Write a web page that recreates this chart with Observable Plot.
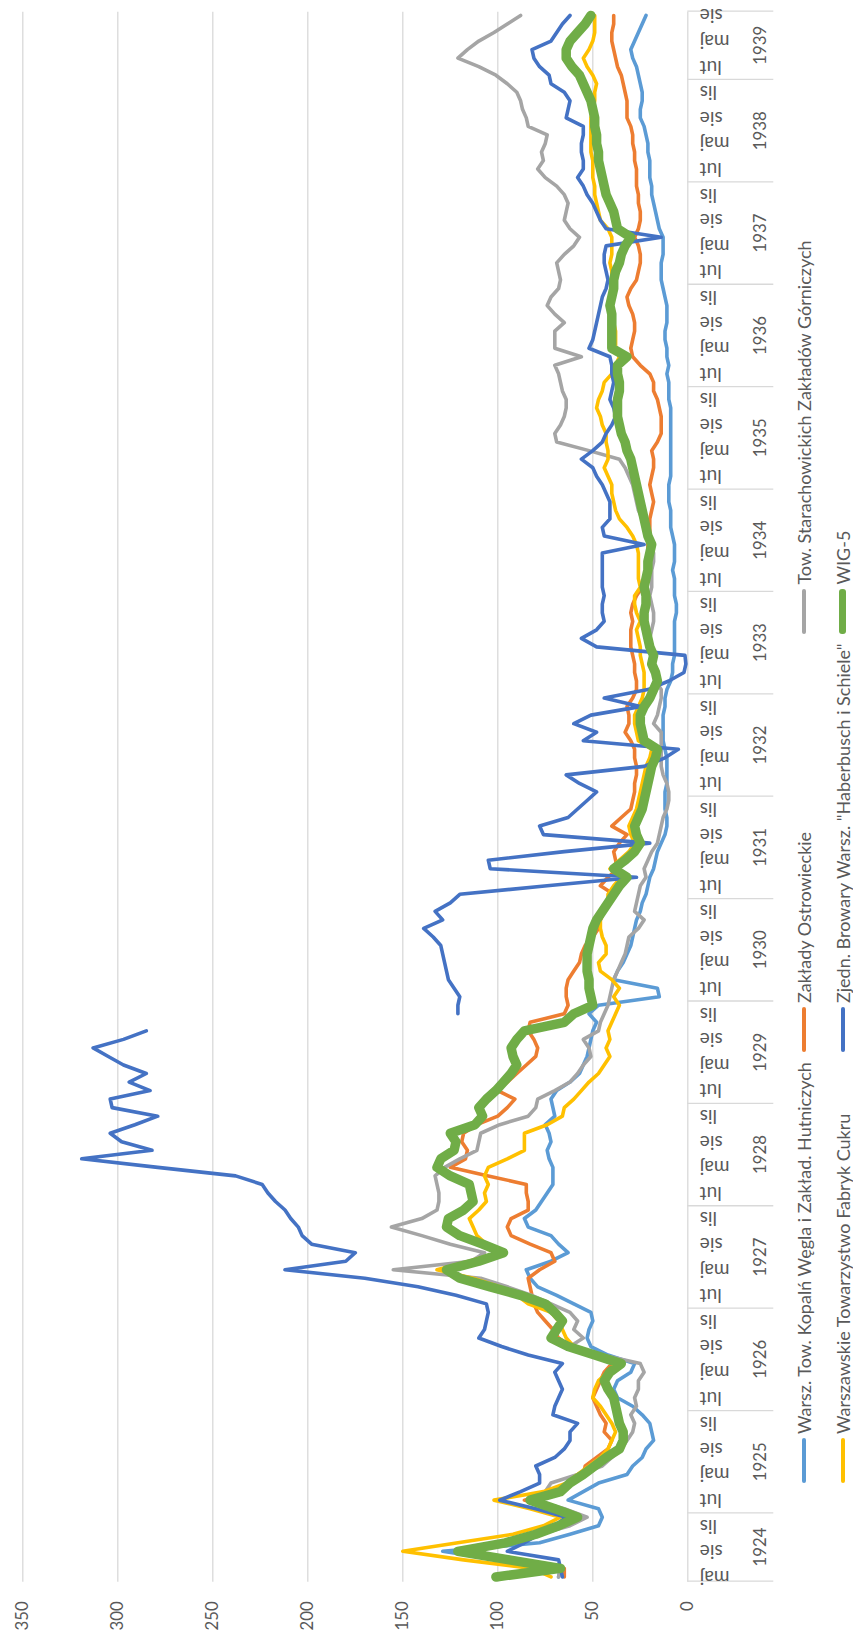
<!DOCTYPE html>
<html lang="pl">
<head>
<meta charset="utf-8">
<title>Notowania akcji 1924–1939</title>
<script src="https://cdn.jsdelivr.net/npm/d3@7"></script>
<script src="https://cdn.jsdelivr.net/npm/@observablehq/plot@0.6"></script>
<style>
  html, body { margin: 0; padding: 0; background: #fff; }
  body { width: 853px; height: 1639px; overflow: hidden; position: relative; }
  /* the chart is laid out landscape and turned a quarter counter-clockwise */
  #chart {
    position: absolute; left: 0; top: 0; width: 1639px; height: 853px;
    transform-origin: 0 0; transform: translate(0, 1639px) rotate(-90deg);
    font-family: Lato, "Open Sans", sans-serif; color: #595959;
  }
  #chart svg { position: absolute; left: 0; top: 0; }
  #legend {
    position: absolute; left: 156px; top: 784px;
    display: grid; grid-template-columns: repeat(3, auto); grid-auto-rows: 39px;
    column-gap: 10px; font-size: 18px; color: #595959;
  }
  .item { display: flex; align-items: center; white-space: nowrap; }
  .swatch { display: inline-block; width: 45px; border-radius: 3px; margin-right: 4px; }
</style>
</head>
<body>
<div id="chart"></div>
<script>
// Monthly quotations, May 1924 – August 1939 (one row per calendar year)
const firstYear = 1924;
const firstMonth = 4; // May (0 = January)

const seriesNames = [
  "Warsz. Tow. Kopalń Węgla i Zakład. Hutniczych",
  "Zakłady Ostrowieckie",
  "Tow. Starachowickich Zakładów Górniczych",
  "Warszawskie Towarzystwo Fabryk Cukru",
  "Zjedn. Browary Warsz. \"Haberbusch i Schiele\"",
  "WIG-5"
];

const kopalnie = [
  68, 67, 100, 129, 78, 62, 47, 45,
  47, 63, 55, 47, 32, 29, 24, 22, 18, 19, 20, 24,
  29, 37, 39, 37, 30, 28, 42, 51, 53, 52, 50, 51,
  60, 69, 79, 83, 85, 72, 63, 68, 72, 84, 86, 80,
  77, 74, 71, 71, 71, 73, 74, 72, 73, 75, 70, 71,
  72, 69, 62, 57, 55, 53, 52, 51, 50, 48, 52, 47,
  15, 16, 39, 37, 34, 32, 30, 29, 28, 27, 25, 24,
  22, 21, 20, 18, 17, 16, 14, 12, 11, 11, 12, 12,
  12, 11, 11, 11, 11, 12, 13, 13, 13, 13, 12, 12,
  11, 9, 8, 8, 7, 7, 7, 7, 7, 6, 6, 7,
  7, 7, 8, 7, 7, 7, 8, 9, 9, 9, 10, 10,
  10, 9, 9, 9, 9, 9, 9, 9, 9, 9, 10, 10,
  10, 11, 10, 11, 11, 12, 12, 11, 11, 11, 12, 13,
  14, 14, 14, 13, 13, 13, 15, 16, 17, 18, 19, 19,
  20, 20, 20, 21, 21, 22, 23, 25, 25, 24, 24, 25,
  26, 27, 29, 30, 28, 26, 24, 22
];

const ostrowiec = [
  65, 65, 88, 120, 95, 80, 65, 60,
  72, 86, 68, 60, 55, 54, 48, 42, 40, 44, 43, 46,
  48, 50, 48, 46, 44, 40, 50, 62, 68, 71, 75, 79,
  81, 82, 83, 84, 78, 70, 72, 83, 93, 95, 93, 84,
  84, 85, 85, 105, 125, 117, 116, 119, 118, 111, 100, 95,
  91, 100, 95, 90, 85, 80, 79, 81, 84, 83, 65, 63,
  64, 64, 63, 60, 57, 56, 54, 50, 47, 46, 44, 43,
  39, 46, 42, 37, 38, 39, 36, 32, 40, 35, 30, 29,
  28, 28, 27, 27, 28, 28, 30, 33, 31, 31, 32, 29,
  27, 27, 28, 28, 29, 30, 30, 30, 29, 30, 29, 27,
  24, 21, 20, 20, 21, 21, 20, 20, 20, 19, 18, 19,
  20, 19, 18, 18, 19, 16, 14, 14, 14, 15, 16, 18,
  18, 20, 25, 29, 30, 29, 28, 28, 29, 31, 32, 30,
  27, 26, 25, 25, 26, 28, 26, 25, 25, 26, 26, 27,
  27, 27, 28, 28, 29, 29, 30, 32, 32, 32, 33, 34,
  35, 37, 38, 39, 40, 40, 39, 39
];

const starachowice = [
  68, 67, 90, 122, 95, 78, 62, 53,
  65, 82, 75, 72, 58, 45, 40, 35, 32, 29, 28, 30,
  27, 28, 26, 26, 23, 25, 45, 62, 55, 60, 58, 62,
  72, 82, 95, 109, 155, 114, 107, 125, 140, 156, 140, 132,
  131, 131, 132, 133, 128, 120, 111, 110, 109, 99, 84, 80,
  79, 70, 62, 58, 55, 51, 52, 55, 47, 46, 44, 42,
  41, 40, 39, 37, 35, 33, 32, 31, 26, 23, 28, 27,
  26, 25, 22, 23, 21, 19, 16, 15, 14, 13, 11, 10,
  10, 11, 13, 14, 14, 14, 14, 14, 18, 16, 15, 14,
  14, 17, 18, 19, 19, 20, 20, 19, 18, 18, 19, 20,
  19, 19, 19, 18, 18, 19, 20, 22, 24, 26, 27, 28,
  29, 31, 33, 36, 52, 69, 70, 67, 65, 64, 64, 66,
  67, 68, 70, 56, 70, 70, 70, 65, 70, 74, 72, 68,
  67, 68, 69, 65, 60, 57, 62, 65, 64, 63, 65, 69,
  75, 79, 76, 77, 75, 74, 84, 85, 87, 88, 90, 95,
  101, 110, 121, 116, 110, 102, 95, 88
];

const cukier = [
  72, 82, 118, 150, 121, 92, 76, 67,
  83, 102, 76, 64, 58, 52, 46, 42, 40, 38, 40, 43,
  46, 50, 49, 47, 42, 38, 50, 60, 64, 66, 68, 72,
  84, 90, 99, 113, 132, 115, 100, 106, 111, 113, 115, 110,
  106, 107, 105, 107, 105, 95, 86, 86, 86, 74, 66, 65,
  60, 56, 52, 47, 44, 41, 43, 41, 42, 40, 38, 36,
  39, 36, 40, 46, 47, 43, 43, 45, 46, 46, 44, 42,
  42, 39, 35, 41, 36, 31, 28, 30, 31, 29, 27, 26,
  25, 24, 23, 22, 20, 19, 26, 27, 28, 28, 26, 24,
  23, 23, 23, 24, 25, 25, 26, 27, 25, 27, 28, 28,
  25, 26, 26, 26, 26, 27, 29, 32, 36, 38, 39, 40,
  40, 42, 44, 42, 42, 43, 43, 45, 46, 48, 47, 45,
  44, 40, 38, 36, 38, 38, 38, 39, 39, 40, 40, 40,
  40, 40, 41, 40, 40, 40, 42, 46, 47, 48, 49, 49,
  50, 50, 50, 51, 51, 51, 51, 51, 50, 49, 49, 48,
  50, 53, 55, 52, 50, 49, 49, 49
];

// no quotation for October 1929
const browary = [
  66, 67, 68, 95, 86, 78, 70, 64,
  80, 99, 88, 78, 78, 80, 70, 65, 62, 62, 58, 71,
  70, 68, 66, 68, 70, 66, 84, 98, 110, 107, 106, 105,
  106, 122, 142, 170, 212, 180, 175, 198, 203, 205, 209, 212,
  217, 221, 224, 238, 279, 319, 282, 298, 304, 291, 279, 303,
  304, 283, 294, 285, 297, 305, 313, 297, 285, null, 121, 121,
  120, 123, 126, 127, 128, 129, 130, 134, 139, 129, 133, 125,
  120, 74, 27, 104, 105, 65, 20, 76, 78, 63, 58, 53,
  48, 57, 64, 23, 12, 5, 55, 48, 60, 51, 25, 44,
  21, 10, 2, 1, 1.5, 48, 56, 48, 44, 45, 45, 44,
  45, 45, 45, 45, 45, 23, 44, 45, 41, 41, 41, 43,
  45, 48, 50, 56, 50, 45, 43, 40, 38, 39, 41, 40,
  39, 40, 40, 41, 52, 50, 49, 48, 47, 46, 45, 43,
  42, 43, 44, 44, 43, 14, 43, 46, 48, 50, 53, 55,
  58, 55, 55, 56, 56, 55, 55, 64, 63, 62, 65, 72,
  73, 78, 81, 82, 72, 69, 66, 62
];

const wig5 = [
  101, 67, 94, 121, 96, 80, 68, 58,
  70, 83, 67, 62, 55, 49, 43, 36, 34, 34, 36, 37,
  38, 39, 42, 44, 41, 35, 49, 63, 72, 69, 66, 70,
  75, 88, 104, 120, 127, 110, 97, 108, 120, 127, 126, 118,
  113, 114, 115, 125, 132, 130, 123, 122, 125, 112, 108, 110,
  106, 101, 97, 93, 90, 92, 93, 90, 86, 65, 60, 50,
  51, 52, 52, 53, 53, 53, 52, 51, 50, 48, 45, 42,
  39, 36, 32, 39, 33, 28, 25, 27, 28, 26, 24, 23,
  22, 21, 20, 19, 17, 16, 23, 24, 25, 25, 23, 20,
  18, 16, 17, 19, 18, 20, 21, 22, 23, 23, 22, 22,
  23, 22, 21, 21, 20, 19, 21, 22, 23, 24, 25, 26,
  27, 28, 29, 30, 32, 33, 35, 36, 37, 37, 37, 36,
  36, 37, 37, 32, 40, 40, 40, 40, 40, 41, 40, 39,
  39, 38, 36, 35, 33, 30, 37, 38, 39, 41, 43, 44,
  45, 46, 47, 47, 48, 48, 49, 49, 50, 51, 53, 55,
  57, 61, 64, 64, 62, 58, 54, 51
];

// axis labels
const monthNames = ["sty", "lut", "mar", "kwi", "maj", "cze", "lip", "sie", "wrz", "paź", "lis", "gru"];
const valueTicks = [0, 50, 100, 150, 200, 250, 300, 350];

// drawing styles, in series order (Office palette)
const styles = [
  {color: "#5B9BD5", width: 3.6, swatch: 4},
  {color: "#ED7D31", width: 3.6, swatch: 4},
  {color: "#A5A5A5", width: 3.6, swatch: 4},
  {color: "#FFC000", width: 3.6, swatch: 4},
  {color: "#4472C4", width: 3.6, swatch: 4},
  {color: "#70AD47", width: 9.5, swatch: 7}
];

const seriesValues = [kopalnie, ostrowiec, starachowice, cukier, browary, wig5];
const n = wig5.length;

// month slots: index i occupies [i, i + 1] on the category axis
const monthTicks = d3.range(0, n, 3).map(i => ({i, label: monthNames[(firstMonth + i) % 12]}));

const yearSpans = [];
for (let i = 0; i < n; ) {
  const year = firstYear + Math.floor((firstMonth + i) / 12);
  const end = Math.min(n, (year - firstYear + 1) * 12 - firstMonth);
  yearSpans.push({year: String(year), start: i, end, mid: (i + end) / 2});
  i = end;
}
const yearBounds = [0, ...yearSpans.map(d => d.end)];

const lineMarks = seriesValues.map((values, s) =>
  Plot.line(values.map((v, i) => ({i, v})), {
    x: d => d.i + 0.5,
    y: "v",
    stroke: styles[s].color,
    strokeWidth: styles[s].width,
    strokeLinejoin: "round",
    strokeLinecap: "round"
  })
);

const svg = Plot.plot({
  width: 1639,
  height: 853,
  marginLeft: 57.3,
  marginRight: 11.7,
  marginTop: 22.3,
  marginBottom: 165.7,
  style: {fontFamily: "Lato, 'Open Sans', sans-serif", fontSize: "16px", color: "#595959", background: "transparent"},
  x: {domain: [0, n], axis: null},
  y: {domain: [0, 350], axis: null},
  marks: [
    Plot.gridY(valueTicks.filter(t => t > 0), {stroke: "#d9d9d9", strokeOpacity: 1, strokeWidth: 1.3}),
    Plot.axisY(valueTicks, {tickSize: 0, tickPadding: 20, fontSize: 16.8, fill: "#595959", label: null}),
    Plot.ruleY([0], {stroke: "#d9d9d9", strokeWidth: 1.3}),
    Plot.ruleX(yearBounds, {x: d => d, y1: 0, y2: 0, insetBottom: -86, stroke: "#d9d9d9", strokeWidth: 1.3}),
    Plot.text(monthTicks, {x: d => d.i + 0.5, y: 0, text: "label", rotate: -90, textAnchor: "end", dy: 12, fontSize: 19, fill: "#595959"}),
    Plot.text(yearSpans, {x: "mid", y: 0, text: "year", dy: 73, fontSize: 16.8, fill: "#595959"}),
    ...lineMarks
  ]
});

const chart = document.getElementById("chart");
chart.appendChild(svg);

// legend below the category axis, three entries per row
const legend = document.createElement("div");
legend.id = "legend";
seriesNames.forEach((name, s) => {
  const item = document.createElement("div");
  item.className = "item";
  const sw = document.createElement("span");
  sw.className = "swatch";
  sw.style.background = styles[s].color;
  sw.style.height = styles[s].swatch + "px";
  item.appendChild(sw);
  item.appendChild(document.createTextNode(name));
  legend.appendChild(item);
});
chart.appendChild(legend);
</script>
</body>
</html>
